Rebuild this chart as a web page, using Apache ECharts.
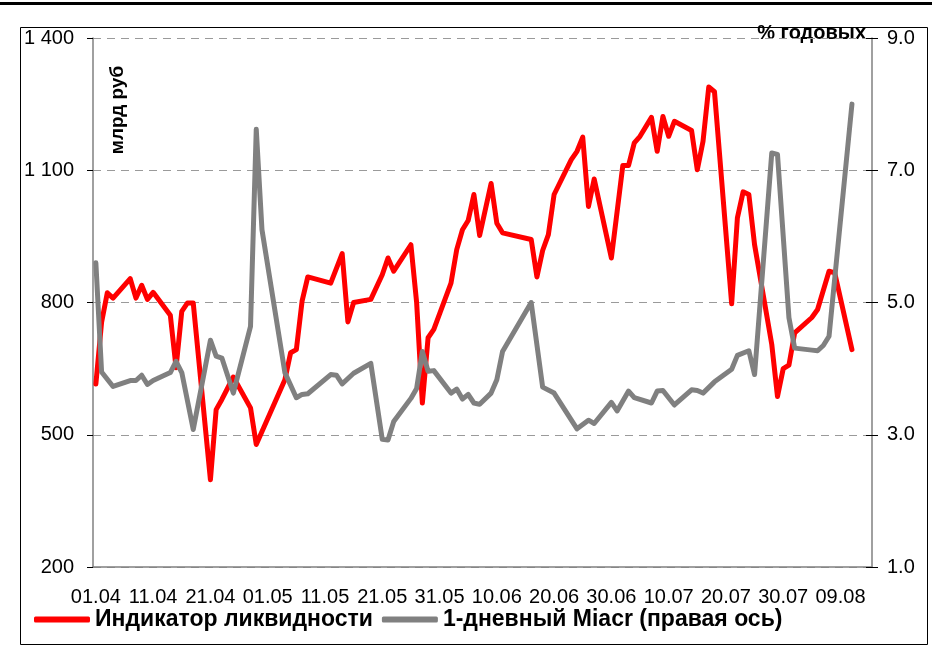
<!DOCTYPE html>
<html>
<head>
<meta charset="utf-8">
<script src="https://cdn.jsdelivr.net/npm/echarts/dist/echarts.min.js"></script>
<style>
html,body{margin:0;padding:0;background:#fff;}
#chart{width:932px;height:657px;}
</style>
</head>
<body>
<div id="chart"></div>
<script>
// ---- data (dates dd.mm of 2008) ----
const redDates = ['01.04','02.04','03.04','04.04','07.04','08.04','09.04','10.04','11.04','14.04','15.04','16.04','17.04','18.04','21.04','22.04','23.04','25.04','28.04','29.04','04.05','05.05','06.05','07.05','08.05','12.05','14.05','15.05','16.05','19.05','21.05','22.05','23.05','26.05','27.05','28.05','29.05','30.05','02.06','03.06','04.06','05.06','06.06','07.06','09.06','10.06','11.06','16.06','17.06','18.06','19.06','20.06','23.06','24.06','25.06','26.06','27.06','30.06','02.07','03.07','04.07','05.07','07.07','08.07','09.07','10.07','11.07','14.07','15.07','16.07','17.07','18.07','21.07','22.07','23.07','24.07','25.07','28.07','29.07','30.07','31.07','01.08','04.08','05.08','07.08','08.08','11.08'];
const redValues = [615,755,822,810,854,810,839,807,823,771,652,780,799,799,398,557,580,631,561,478,625,686,693,803,858,844,911,756,800,807,863,901,871,931,800,572,720,739,844,920,965,986,1045,952,1070,980,958,943,858,918,954,1045,1124,1143,1175,1018,1080,901,1111,1111,1162,1177,1220,1143,1222,1177,1211,1190,1101,1166,1289,1278,797,992,1051,1045,931,705,587,650,658,731,766,784,871,867,693];

const grayDates = ['01.04','02.04','04.04','07.04','08.04','09.04','10.04','11.04','14.04','15.04','16.04','18.04','21.04','22.04','23.04','25.04','28.04','29.04','30.04','04.05','06.05','07.05','08.05','12.05','13.05','14.05','16.05','19.05','21.05','22.05','23.05','26.05','27.05','28.05','29.05','30.05','02.06','03.06','04.06','05.06','06.06','07.06','09.06','10.06','11.06','16.06','18.06','20.06','24.06','26.06','27.06','30.06','01.07','03.07','04.07','07.07','08.07','09.07','11.07','14.07','15.07','16.07','18.07','21.07','22.07','24.07','25.07','28.07','29.07','31.07','01.08','04.08','05.08','06.08','07.08','11.08'];
const grayValues = [5.60,3.95,3.73,3.82,3.82,3.90,3.76,3.82,3.94,4.11,3.94,3.08,4.43,4.19,4.16,3.63,4.64,7.62,6.10,3.94,3.56,3.61,3.62,3.91,3.90,3.77,3.93,4.08,2.93,2.92,3.20,3.55,3.70,4.26,3.96,3.97,3.63,3.69,3.54,3.61,3.48,3.46,3.63,3.83,4.26,5.00,3.72,3.63,3.09,3.22,3.17,3.49,3.36,3.66,3.56,3.48,3.66,3.67,3.45,3.68,3.67,3.63,3.80,3.99,4.20,4.27,3.91,7.26,7.24,4.77,4.31,4.28,4.27,4.35,4.49,8.00];

const leftAxis = {min: 200, max: 1400, step: 300};
const rightAxis = {min: 1, max: 9, step: 2};
const seriesNames = ['Индикатор ликвидности', '1-дневный Miacr (правая ось)'];
const leftUnit = 'млрд руб';
const rightUnit = '% годовых';
const firstDay = [2008, 3, 1];   // 01.04.2008
const dayCount = 136;            // days shown on the date axis
const labelEvery = 10;           // one label each 10 days

// ---- build axis categories (calendar days) ----
const pad = n => String(n).padStart(2, '0');
const pad3 = n => String(n).padStart(3, '0');
const categories = [];
for (let i = 0; i < dayCount; i++) {
  const d = new Date(firstDay[0], firstDay[1], firstDay[2] + i);
  categories.push(pad(d.getDate()) + '.' + pad(d.getMonth() + 1));
}
const redData = redDates.map((d, i) => [d, redValues[i]]);
const grayData = grayDates.map((d, i) => [d, grayValues[i]]);

const FONT = '"Liberation Sans", Arial, sans-serif';
const chart = echarts.init(document.getElementById('chart'), null, {renderer: 'canvas'});

const option = {
  animation: false,
  backgroundColor: '#ffffff',
  grid: {left: 93, right: 60, top: 38, bottom: 90, containLabel: false},
  xAxis: {
    type: 'category',
    data: categories,
    boundaryGap: true,
    axisLine: {lineStyle: {color: '#808080', width: 1.5}},
    axisTick: {interval: labelEvery - 1, length: 6, lineStyle: {color: '#000'}},
    axisLabel: {interval: labelEvery - 1, color: '#000', fontSize: 20, fontFamily: FONT, margin: 20},
    splitLine: {show: false}
  },
  yAxis: [
    {
      type: 'value', position: 'left',
      min: leftAxis.min, max: leftAxis.max, interval: leftAxis.step,
      axisLine: {show: true, lineStyle: {color: '#808080', width: 1.5}},
      axisTick: {show: true, length: 6, lineStyle: {color: '#000'}},
      axisLabel: {color: '#000', fontSize: 20, fontFamily: FONT, margin: 19,
        formatter: v => v >= 1000 ? Math.floor(v / 1000) + ' ' + pad3(v % 1000) : String(v)},
      splitLine: {show: true, lineStyle: {color: '#9a9a9a', type: [8, 6], width: 1.2}}
    },
    {
      type: 'value', position: 'right',
      min: rightAxis.min, max: rightAxis.max, interval: rightAxis.step,
      axisLine: {show: true, lineStyle: {color: '#808080', width: 1.5}},
      axisTick: {show: true, length: 6, lineStyle: {color: '#000'}},
      axisLabel: {color: '#000', fontSize: 20, fontFamily: FONT, margin: 15,
        formatter: v => v.toFixed(1)},
      splitLine: {show: false}
    },
    {
      type: 'value', position: 'right',
      min: rightAxis.min, max: rightAxis.max, interval: rightAxis.step,
      axisLine: {show: false},
      axisTick: {show: true, inside: true, length: 6, lineStyle: {color: '#000'}},
      axisLabel: {show: false},
      splitLine: {show: false}
    }
  ],
  legend: {
    data: seriesNames,
    left: 29, top: 603,
    itemWidth: 56, itemHeight: 6, itemGap: 9,
    icon: 'roundRect',
    textStyle: {color: '#000', fontSize: 23, fontWeight: 'bold', fontFamily: FONT}
  },
  series: [
    {
      name: seriesNames[0], type: 'line', yAxisIndex: 0,
      data: redData, symbol: 'none', color: '#ff0000',
      lineStyle: {color: '#ff0000', width: 5, join: 'round', cap: 'round'}
    },
    {
      name: seriesNames[1], type: 'line', yAxisIndex: 1,
      data: grayData, symbol: 'none', color: '#808080',
      lineStyle: {color: '#808080', width: 5, join: 'round', cap: 'round'}
    }
  ],
  graphic: [
    {type: 'rect', shape: {x: 0, y: 2, width: 932, height: 3}, style: {fill: '#000'}, silent: true},
    {type: 'rect', shape: {x: 20.5, y: 27.5, width: 907, height: 617}, style: {fill: 'none', stroke: '#000', lineWidth: 1}, silent: true, z: -1},
    {type: 'text', x: 118, y: 110, rotation: Math.PI / 2,
      style: {text: leftUnit, font: 'bold 19px ' + FONT, fill: '#000', textAlign: 'center', textVerticalAlign: 'middle'}},
    {type: 'text', x: 866, y: 33,
      style: {text: rightUnit, font: 'bold 20px ' + FONT, fill: '#000', textAlign: 'right', textVerticalAlign: 'middle'}}
  ]
};
chart.setOption(option);
</script>
</body>
</html>
